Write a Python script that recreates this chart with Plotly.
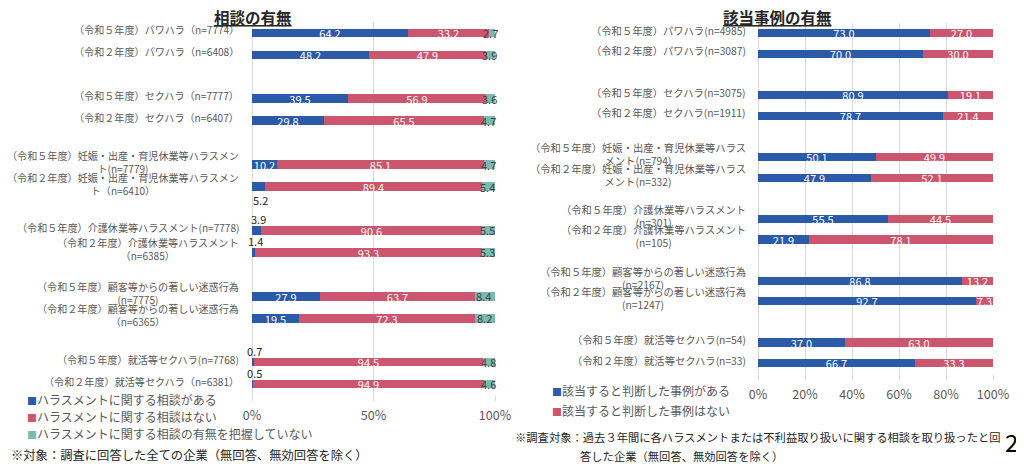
import plotly.graph_objects as go

W, H = 1024, 466
OFF = 8  # the page body margin shifts the figure by 8px
FW, FH = W - OFF, H - OFF
FONT = "Noto Sans CJK JP"

BLUE = "#2a5aa8"
PINK = "#cc566e"
TEAL = "#7bbab0"
GRAY = "#595959"

# left chart: 相談の有無
left_labels = [
    "（令和５年度）パワハラ（n=7774）",
    "（令和２年度）パワハラ（n=6408）",
    "（令和５年度）セクハラ（n=7777）",
    "（令和２年度）セクハラ（n=6407）",
    "（令和５年度）妊娠・出産・育児休業等ハラスメン<br>ト(n=7779)",
    "（令和２年度）妊娠・出産・育児休業等ハラスメン<br>ト（n=6410）",
    "（令和５年度）介護休業等ハラスメント(n=7778)",
    "（令和２年度）介護休業等ハラスメント<br>（n=6385）",
    "（令和５年度）顧客等からの著しい迷惑行為<br>(n=7775)",
    "（令和２年度）顧客等からの著しい迷惑行為<br>（n=6365）",
    "（令和５年度）就活等セクハラ(n=7768)",
    "（令和２年度）就活等セクハラ（n=6381）",
]
left_yes = [64.2, 48.2, 39.5, 29.8, 10.2, 5.2, 3.9, 1.4, 27.9, 19.5, 0.7, 0.5]
left_no = [33.2, 47.9, 56.9, 65.5, 85.1, 89.4, 90.6, 93.3, 63.7, 72.3, 94.5, 94.9]
left_unknown = [2.7, 3.9, 3.6, 4.7, 4.7, 5.4, 5.5, 5.3, 8.4, 8.2, 4.8, 4.6]
left_series = ["ハラスメントに関する相談がある", "ハラスメントに関する相談はない",
               "ハラスメントに関する相談の有無を把握していない"]

# right chart: 該当事例の有無
right_labels = [
    "（令和５年度）パワハラ(n=4985)",
    "（令和２年度）パワハラ(n=3087)",
    "（令和５年度）セクハラ(n=3075)",
    "（令和２年度）セクハラ(n=1911)",
    "（令和５年度）妊娠・出産・育児休業等ハラス<br>メント(n=794)",
    "（令和２年度）妊娠・出産・育児休業等ハラス<br>メント(n=332)",
    "（令和５年度）介護休業等ハラスメント<br>(n=301)",
    "（令和２年度）介護休業等ハラスメント<br>(n=105)",
    "（令和５年度）顧客等からの著しい迷惑行為<br>(n=2167)",
    "（令和２年度）顧客等からの著しい迷惑行為<br>(n=1247)",
    "（令和５年度）就活等セクハラ(n=54)",
    "（令和２年度）就活等セクハラ(n=33)",
]
right_yes = [73.0, 70.0, 80.9, 78.7, 50.1, 47.9, 55.5, 21.9, 86.8, 92.7, 37.0, 66.7]
right_no = [27.0, 30.0, 19.1, 21.4, 49.9, 52.1, 44.5, 78.1, 13.2, 7.3, 63.0, 33.3]
right_series = ["該当すると判断した事例がある", "該当すると判断した事例はない"]

# pairs of rows with an empty slot between groups
slots = [i // 2 * 3 + i % 2 for i in range(len(left_labels))]


def fmt(v):
    return f"{v:.1f}"


def px(x):
    return (x - OFF) / FW


def py(y):
    return 1 - (y - OFF) / FH


fig = go.Figure()

bar_common = dict(orientation="h", width=0.4, textposition="inside",
                  insidetextanchor="middle", constraintext="none", textangle=0,
                  cliponaxis=False, showlegend=False, marker_line_width=0)
white_txt = dict(color="white", size=11, family=FONT)

# left bars
fig.add_trace(go.Bar(x=left_yes, y=slots, marker_color=BLUE, name=left_series[0],
                     text=[fmt(v) if v >= 6 else "" for v in left_yes],
                     textfont=white_txt, xaxis="x", yaxis="y", **bar_common))
fig.add_trace(go.Bar(x=left_no, y=slots, marker_color=PINK, name=left_series[1],
                     text=[fmt(v) for v in left_no],
                     textfont=white_txt, xaxis="x", yaxis="y", **bar_common))
fig.add_trace(go.Bar(x=left_unknown, y=slots, marker_color=TEAL, name=left_series[2],
                     xaxis="x", yaxis="y", **bar_common))

# right bars
fig.add_trace(go.Bar(x=right_yes, y=slots, marker_color=BLUE, name=right_series[0],
                     text=[fmt(v) for v in right_yes],
                     textfont=white_txt, xaxis="x2", yaxis="y2", **bar_common))
fig.add_trace(go.Bar(x=right_no, y=slots, marker_color=PINK, name=right_series[1],
                     text=[fmt(v) for v in right_no],
                     textfont=white_txt, xaxis="x2", yaxis="y2", **bar_common))

ann = []

# category labels (centre-aligned wrapped text, right edge next to the plot)
for i, lab in enumerate(left_labels):
    ann.append(dict(text=lab, xref="paper", x=px(241), xanchor="right",
                    yref="y", y=slots[i], yanchor="middle", yshift=3,
                    align="center", showarrow=False,
                    font=dict(size=10.1, color=GRAY, family=FONT)))
for i, lab in enumerate(right_labels):
    ann.append(dict(text=lab, xref="paper", x=px(748), xanchor="right",
                    yref="y2", y=slots[i], yanchor="middle", yshift=3,
                    align="center", showarrow=False,
                    font=dict(size=10.3, color=GRAY, family=FONT)))

# teal segment values (dark text, may run past the bar end)
for i, v in enumerate(left_unknown):
    ann.append(dict(text=fmt(v), xref="x", x=left_yes[i] + left_no[i] + v / 2,
                    xanchor="center", yref="y", y=slots[i], yanchor="middle",
                    xshift=-1, showarrow=False,
                    font=dict(size=11, color="#404040", family=FONT)))

# small blue values written outside the bar
for i, v in enumerate(left_yes):
    if v < 6:
        ann.append(dict(text=fmt(v), xref="x", x=v / 2, xanchor="center",
                        yref="y", y=slots[i], yanchor="middle",
                        yshift=-13 if i == 5 else 11, xshift=2, showarrow=False,
                        font=dict(size=11, color="#262626", family=FONT)))

# titles
ann.append(dict(text="<b><u>相談の有無</u></b>", xref="paper", yref="paper",
                x=px(253), y=py(17), xanchor="center", yanchor="middle",
                showarrow=False, font=dict(size=15.5, color="#262626", family=FONT)))
ann.append(dict(text="<b><u>該当事例の有無</u></b>", xref="paper", yref="paper",
                x=px(777), y=py(17), xanchor="center", yanchor="middle",
                showarrow=False, font=dict(size=15.5, color="#262626", family=FONT)))

# legends
for k, (name, col) in enumerate(zip(left_series, [BLUE, PINK, TEAL])):
    ann.append(dict(text=f"<span style='color:{col};font-size:10px'>■</span>{name}",
                    xref="paper", yref="paper", x=px(25), xanchor="left",
                    y=py(399 + k * 17), yanchor="middle", showarrow=False,
                    font=dict(size=12, color=GRAY, family=FONT)))
for k, (name, col) in enumerate(zip(right_series, [BLUE, PINK])):
    ann.append(dict(text=f"<span style='color:{col};font-size:10px'>■</span>{name}",
                    xref="paper", yref="paper", x=px(550), xanchor="left",
                    y=py(390 + k * 20), yanchor="middle", showarrow=False,
                    font=dict(size=12, color=GRAY, family=FONT)))

# footnotes
ann.append(dict(text="※対象：調査に回答した全ての企業（無回答、無効回答を除く）",
                xref="paper", yref="paper", x=px(9), xanchor="left",
                y=py(455), yanchor="middle", showarrow=False,
                font=dict(size=12.3, color="#262626", family=FONT)))
ann.append(dict(text="※調査対象：過去３年間に各ハラスメントまたは不利益取り扱いに関する相談を取り扱ったと回",
                xref="paper", yref="paper", x=px(513), xanchor="left",
                y=py(437), yanchor="middle", showarrow=False,
                font=dict(size=11.3, color="#262626", family=FONT)))
ann.append(dict(text="答した企業（無回答、無効回答を除く）",
                xref="paper", yref="paper", x=px(578), xanchor="left",
                y=py(456), yanchor="middle", showarrow=False,
                font=dict(size=11.3, color="#262626", family=FONT)))
ann.append(dict(text="2", xref="paper", yref="paper", x=px(1011), xanchor="center",
                y=py(441), yanchor="middle", showarrow=False,
                font=dict(size=24, color="#000000", family=FONT)))

xaxis_common = dict(showgrid=True, gridcolor="#d9d9d9", gridwidth=1,
                    zeroline=True, zerolinecolor="#d9d9d9", zerolinewidth=1,
                    range=[0, 100.2], ticksuffix="%", ticks="outside", ticklen=5,
                    tick0=0, ticklabelstandoff=4,
                    tickcolor="#d9d9d9", showline=False, fixedrange=True,
                    automargin=False,
                    tickfont=dict(size=12.5, color=GRAY, family=FONT))
yaxis_common = dict(range=[16.5, -0.5], showticklabels=False, showgrid=False,
                    zeroline=False, showline=False, ticks="", fixedrange=True,
                    automargin=False)

fig.update_layout(
    width=FW, height=FH,
    barmode="stack",
    bargap=0,
    showlegend=False,
    paper_bgcolor="white", plot_bgcolor="white",
    margin=dict(l=0, r=0, t=0, b=0, autoexpand=False),
    font=dict(family=FONT),
    xaxis=dict(domain=[px(252), px(495.5)], dtick=50, anchor="y", **xaxis_common),
    yaxis=dict(domain=[py(395), py(22)], anchor="x", **yaxis_common),
    xaxis2=dict(domain=[px(758), px(993.5)], dtick=20, anchor="y2", **xaxis_common),
    yaxis2=dict(domain=[py(373.5), py(23)], anchor="x2", **yaxis_common),
    annotations=ann,
)

fig.write_html("out.html")
